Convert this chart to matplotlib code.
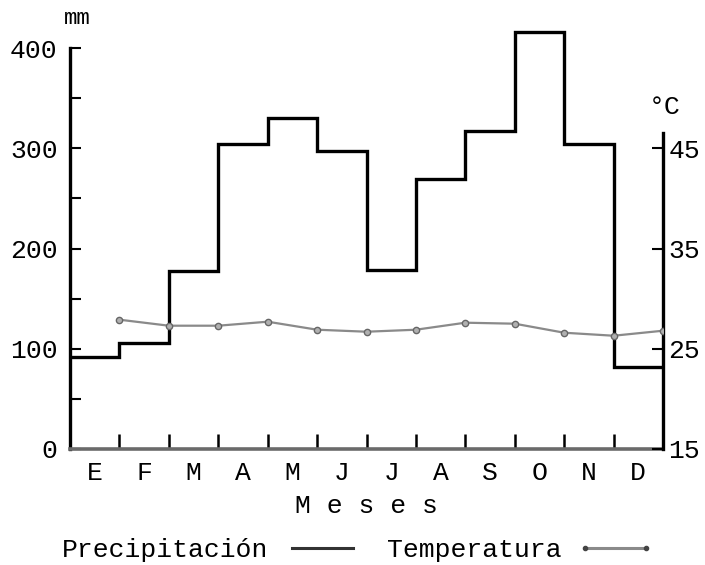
import numpy as np
import matplotlib
matplotlib.use("Agg")
import matplotlib.pyplot as plt
from matplotlib.lines import Line2D

months = ["E", "F", "M", "A", "M", "J", "J", "A", "S", "O", "N", "D"]
precip_mm = [92, 106, 178, 304, 330, 297, 179, 269, 317, 416, 304, 82]
temp_c = [27.9, 27.3, 27.3, 27.7, 26.9, 26.7, 26.9, 27.6, 27.5, 26.6, 26.3, 26.8]
left_ticks = [0, 100, 200, 300, 400]
right_ticks = [15, 25, 35, 45]

plt.rcParams['font.family'] = ['Liberation Mono', 'DejaVu Sans Mono']
FS = 19

fig = plt.figure(figsize=(7.05, 5.65), dpi=100)
ax = fig.add_axes([70/705, 116/565, 593/705, 421/565])
ax2 = ax.twinx()

edges = np.arange(len(months) + 1)
ax.stairs(precip_mm, edges, baseline=None, color='black', lw=2.4, zorder=3)

tx = np.arange(1, len(temp_c) + 1)
ax2.plot(tx, temp_c, color='#8a8a8a', lw=1.6, marker='o', ms=4.5,
         mfc='#b0b0b0', mec='#666666', mew=1.0, zorder=4)

ax.set_xlim(0, 12)
ax.set_ylim(0, 420)
ax2.set_ylim(15, 57)

for s in ['top']:
    ax.spines[s].set_visible(False)
    ax2.spines[s].set_visible(False)
ax2.spines['left'].set_visible(False)
ax2.spines['bottom'].set_visible(False)
ax.spines['right'].set_visible(False)
ax.spines['left'].set_bounds(0, 400)
ax.spines['left'].set_linewidth(2.4)
ax.spines['bottom'].set_linewidth(2.6)
ax.spines['bottom'].set_color('#6a6a6a')
ax2.spines['right'].set_bounds(15, 46.5)
ax2.spines['right'].set_linewidth(2.4)

ax.set_yticks(left_ticks)
ax.set_yticks([50, 150, 250, 350], minor=True)
ax.tick_params(axis='y', which='both', direction='in', length=8, width=1.5,
               labelsize=FS, pad=9)
ax.set_xticks(np.arange(1, 12))
ax.set_xticklabels([])
ax.set_xticks(np.arange(len(months)) + 0.5, minor=True)
ax.set_xticklabels(months, minor=True)
ax.tick_params(axis='x', which='major', direction='in', length=11, width=1.8)
ax.tick_params(axis='x', which='minor', length=0, labelsize=FS, pad=9)

ax2.set_yticks(right_ticks)
ax2.tick_params(axis='y', direction='in', length=8, width=1.5,
                labelsize=FS, pad=4)

ax.set_xlabel("M e s e s", fontsize=FS, labelpad=6)

fig.text(77/705, 1 - 18/565, "mm", fontsize=16, ha='center', va='center')
fig.text(665/705, 1 - 107/565, "°C", fontsize=FS, ha='center', va='center')

handles = [Line2D([], [], color='#333333', lw=2.2),
           Line2D([], [], color='#8a8a8a', lw=2.2, marker='o', ms=3,
                  mfc='#444444', mec='#444444')]
fig.legend(handles, ["Precipitación", "Temperatura"], loc='center',
           bbox_to_anchor=(358/705, 15/565), ncol=2, frameon=False,
           markerfirst=False, numpoints=2, fontsize=FS, handlelength=2.9,
           handletextpad=0.6, columnspacing=1.0, borderpad=0)

fig.savefig("out.png", dpi=100)
